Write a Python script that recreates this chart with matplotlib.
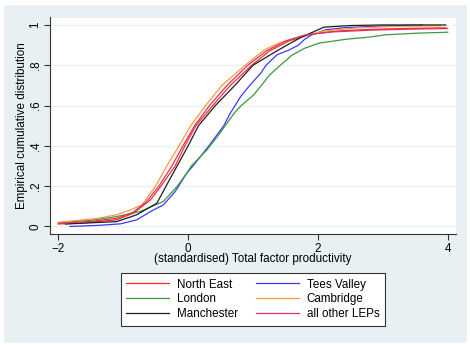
import matplotlib as mpl
mpl.use('Agg')
import matplotlib.pyplot as plt
from matplotlib.patches import Rectangle

mpl.rcParams['font.family'] = ['Liberation Sans', 'DejaVu Sans']

# empirical CDF points: (tfp, share)
ne_x = [-2.00, -1.60, -1.10, -0.84, -0.58, -0.42, -0.20, -0.05, 0.12, 0.38, 0.65, 0.98, 1.25, 1.55, 1.90, 2.30, 2.80, 3.40, 3.97]
ne_y = [0.012, 0.018, 0.033, 0.066, 0.132, 0.200, 0.300, 0.400, 0.500, 0.600, 0.700, 0.800, 0.870, 0.920, 0.955, 0.970, 0.978, 0.983, 0.986]

tees_x = [-1.82, -1.40, -1.04, -0.79, -0.58, -0.38, -0.20, -0.02, 0.09, 0.32, 0.55, 0.65, 0.81, 0.95, 1.12, 1.20, 1.37, 1.55, 1.70, 1.80, 1.90, 2.12, 2.43, 3.00, 3.61]
tees_y = [0.000, 0.005, 0.013, 0.033, 0.074, 0.107, 0.173, 0.265, 0.306, 0.400, 0.500, 0.562, 0.645, 0.700, 0.761, 0.800, 0.852, 0.875, 0.900, 0.930, 0.950, 0.976, 0.987, 0.995, 0.999]

lon_x = [-2.00, -1.50, -1.10, -0.74, -0.38, -0.17, -0.02, 0.05, 0.29, 0.46, 0.60, 0.73, 0.82, 1.01, 1.13, 1.25, 1.42, 1.60, 1.80, 2.02, 2.43, 2.80, 3.04, 3.51, 4.00]
lon_y = [0.019, 0.030, 0.049, 0.074, 0.124, 0.198, 0.265, 0.300, 0.380, 0.450, 0.513, 0.570, 0.600, 0.653, 0.700, 0.750, 0.800, 0.850, 0.885, 0.910, 0.929, 0.940, 0.951, 0.959, 0.964]

cam_x = [-2.00, -1.40, -1.10, -0.89, -0.71, -0.58, -0.50, -0.33, -0.14, 0.04, 0.27, 0.52, 0.88, 1.17, 1.40, 1.73, 2.10, 2.60, 3.20, 3.89]
cam_y = [0.020, 0.040, 0.058, 0.082, 0.107, 0.165, 0.200, 0.300, 0.400, 0.500, 0.600, 0.700, 0.800, 0.876, 0.910, 0.943, 0.970, 0.985, 0.993, 0.996]

man_x = [-1.89, -1.10, -0.79, -0.48, -0.34, -0.17, 0.00, 0.16, 0.42, 0.72, 1.00, 1.35, 1.58, 1.75, 1.94, 2.09, 2.50, 3.00, 3.97]
man_y = [0.012, 0.024, 0.058, 0.116, 0.200, 0.300, 0.400, 0.500, 0.600, 0.700, 0.800, 0.868, 0.910, 0.940, 0.967, 0.989, 0.997, 1.000, 1.000]

oth_x = [-2.00, -1.50, -1.10, -0.85, -0.65, -0.45, -0.25, -0.08, 0.10, 0.33, 0.60, 0.92, 1.20, 1.50, 1.80, 2.20, 2.80, 3.40, 4.00]
oth_y = [0.015, 0.025, 0.040, 0.070, 0.120, 0.200, 0.300, 0.400, 0.500, 0.600, 0.700, 0.800, 0.870, 0.920, 0.950, 0.965, 0.974, 0.979, 0.982]

xticks = [-2, 0, 2, 4]
yticks = [0, 0.2, 0.4, 0.6, 0.8, 1]
ytick_labels = ['0', '.2', '.4', '.6', '.8', '1']

fig = plt.figure(figsize=(4.7, 3.45), dpi=100)
fig.patches.append(Rectangle((4/470, 2/345), 463/470, 338/345, transform=fig.transFigure,
                             facecolor='#e9f0f3', edgecolor='none', zorder=-1))

ax = fig.add_axes([50/470, 1 - 234.3/345, 405.7/470, 216.8/345])
ax.set_facecolor('white')

lw = 0.9
h_ne, = ax.plot(ne_x, ne_y, color='#ff2b2b', lw=lw, label='North East')
h_tv, = ax.plot(tees_x, tees_y, color='#3a3aff', lw=lw, label='Tees Valley')
h_lo, = ax.plot(lon_x, lon_y, color='#3b9a3b', lw=lw, label='London')
h_ca, = ax.plot(cam_x, cam_y, color='#ff9a33', lw=lw, label='Cambridge')
h_ma, = ax.plot(man_x, man_y, color='#1e1e1e', lw=lw, label='Manchester')
h_ot, = ax.plot(oth_x, oth_y, color='#d8336a', lw=lw, label='all other LEPs')

ax.set_xlim(-2.128, 4.123)
ax.set_ylim(-0.039, 1.037)
ax.set_xticks(xticks)
ax.set_yticks(yticks)
ax.set_yticklabels(ytick_labels, rotation=90, va='center')
ax.grid(axis='y', color='#e9f0f3', lw=1)
ax.set_axisbelow(True)

for s in ['top', 'right']:
    ax.spines[s].set_visible(False)
for s in ['left', 'bottom']:
    ax.spines[s].set_color('#333333')
    ax.spines[s].set_linewidth(0.8)
ax.tick_params(direction='out', length=4.5, width=0.8, color='#333333', labelsize=8.4, pad=1.5)

ax.set_xlabel('(standardised) Total factor productivity', fontsize=8.4)
ax.xaxis.set_label_coords(0.5, -0.1153)
ax.xaxis.label.set_va('center')
ax.set_ylabel('Empirical cumulative distribution', fontsize=8.4)
ax.yaxis.set_label_coords(-0.07, 0.5)
ax.yaxis.label.set_va('center')

handles = [h_ne, h_lo, h_ma, h_tv, h_ca, h_ot]
leg = fig.legend(handles, [h.get_label() for h in handles], ncol=2, loc='center',
                 bbox_to_anchor=(0.538, 0.132), frameon=True, fancybox=False,
                 edgecolor='#333333', framealpha=1, fontsize=8.4, handlelength=3.7,
                 handletextpad=0.66, columnspacing=1.5, labelspacing=0.25, borderpad=0.45)
leg.get_frame().set_linewidth(0.8)

fig.savefig('out.png', dpi=100)
